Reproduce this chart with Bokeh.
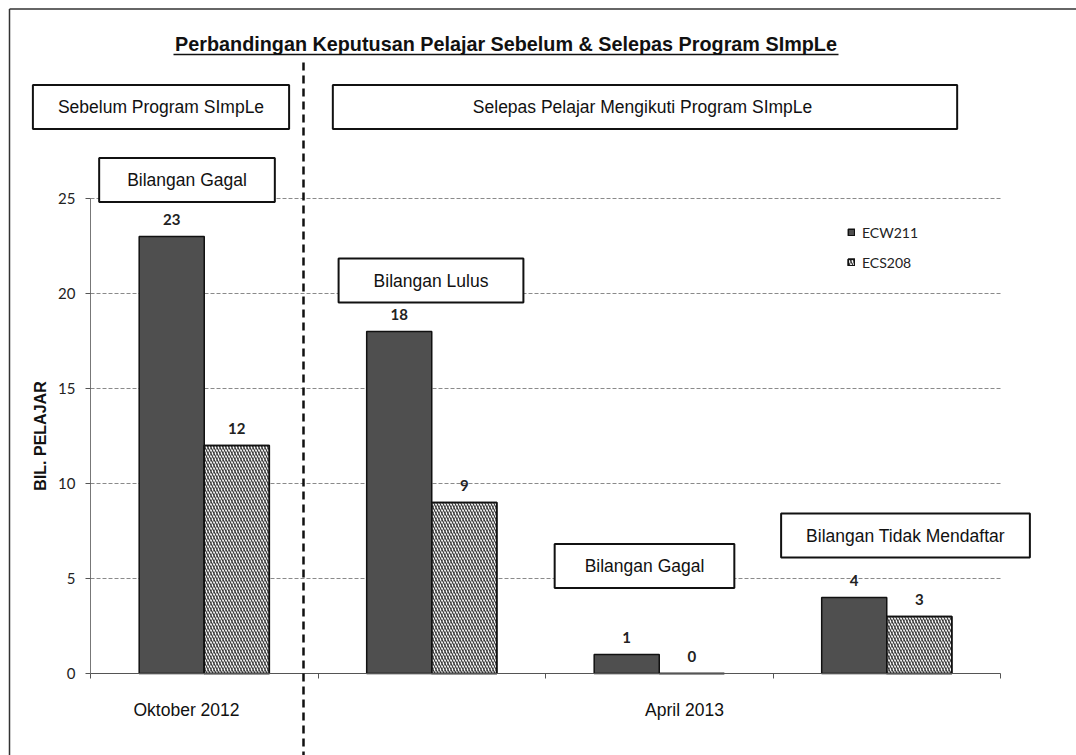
from bokeh.plotting import figure
from bokeh.models import (Range1d, FixedTicker, Label, LabelSet, ColumnDataSource,
                          Legend, LegendItem, Arrow)
from bokeh.embed import file_html
from bokeh.resources import INLINE
from bokeh.core.properties import value

# ---------------- data ----------------
months = ["Oktober 2012", "April 2013"]
groups = ["Bilangan Gagal (Okt 2012)", "Bilangan Lulus", "Bilangan Gagal", "Bilangan Tidak Mendaftar"]
ecw211 = [23, 18, 1, 4]
ecs208 = [12, 9, 0, 3]
y_ticks = [0, 5, 10, 15, 20, 25]
series_names = ["ECW211", "ECS208"]

# ---------------- layout (page pixels) ----------------
W, H = 1076, 755
AX_L, AX_R = 90.0, 1000.0      # x of value axis / end of category axis
AX_B, AX_T = 673.0, 198.0      # y of 0 and of 25
YMAX = 25
PXX = (AX_R - AX_L) / len(groups)
PXY = (AX_B - AX_T) / YMAX

def dx(px):
    return (px - AX_L) / PXX

def dy(py):
    return (AX_B - py) / PXY

p = figure(width=W, height=H, output_backend="svg", toolbar_location=None,
           x_range=Range1d(dx(0), dx(W)), y_range=Range1d(dy(H), dy(0)),
           min_border=0, min_border_left=0, min_border_right=0,
           min_border_top=0, min_border_bottom=0)
p.outline_line_color = None
p.background_fill_color = "white"
p.border_fill_color = "white"
p.xgrid.visible = False
p.ygrid.visible = False

# grid lines (value ticks across the category span)
gl = [t for t in y_ticks if t > 0]
p.segment(x0=[0] * len(gl), x1=[len(groups)] * len(gl), y0=gl, y1=gl,
          line_color="#8a8a8a", line_dash="4 2", line_width=1)

bw = 0.286
centers = [i + 0.5 for i in range(len(groups))]
x1 = [c - bw / 2 for c in centers]
x2 = [c + bw / 2 for c in centers]

src1 = ColumnDataSource(dict(x=x1, top=ecw211, t=[str(v) for v in ecw211]))
src2 = ColumnDataSource(dict(x=x2, top=ecs208, t=[str(v) for v in ecs208]))

r1 = p.vbar(x="x", top="top", width=bw, source=src1, fill_color="#4f4f4f",
            line_color="#111111", line_width=1.5)
r2a = p.vbar(x="x", top="top", width=bw, source=src2, fill_color="white",
             hatch_pattern="left_diagonal_line", hatch_color="#333333", hatch_scale=6,
             hatch_weight=1.2, line_color="#111111", line_width=1.5)
r2b = p.vbar(x="x", top="top", width=bw, source=src2, fill_alpha=0,
             hatch_pattern="right_diagonal_line", hatch_color="#444444", hatch_scale=6,
             hatch_weight=0.7, line_color="#111111", line_width=1.5)

for s in (src1, src2):
    p.add_layout(LabelSet(x="x", y="top", text="t", source=s, y_offset=17,
                          text_align="center", text_baseline="middle",
                          text_font=value("Lato"), text_font_size="15px",
                          text_font_style="bold", text_color="#222222"))

# ---------------- axes (drawn at the data origin) ----------------
xt = list(range(len(groups) + 1))
p.xaxis.fixed_location = 0
p.xaxis.bounds = (0, len(groups))
p.xaxis.ticker = FixedTicker(ticks=xt)
p.xaxis.major_label_overrides = {t: "" for t in xt}
p.xaxis.major_tick_in = 0
p.xaxis.major_tick_out = 5
p.xaxis.minor_tick_line_color = None
p.xaxis.axis_line_color = "#555555"
p.xaxis.major_tick_line_color = "#555555"

p.yaxis.fixed_location = 0
p.yaxis.bounds = (0, YMAX)
p.yaxis.ticker = FixedTicker(ticks=y_ticks)
p.yaxis.major_tick_in = 0
p.yaxis.major_tick_out = 5
p.yaxis.minor_tick_line_color = None
p.yaxis.axis_line_color = "#777777"
p.yaxis.major_tick_line_color = "#555555"
p.yaxis.major_label_text_font = "Lato"
p.yaxis.major_label_text_font_size = "15px"
p.yaxis.major_label_text_color = "#222222"
p.yaxis.major_label_standoff = 10
p.yaxis.axis_label = "BIL. PELAJAR"
p.yaxis.axis_label_text_font = "Liberation Sans"
p.yaxis.axis_label_text_font_style = "bold"
p.yaxis.axis_label_text_font_size = "16px"
p.yaxis.axis_label_text_color = "#111111"
p.yaxis.axis_label_standoff = 6

# ---------------- legend ----------------
legend = Legend(items=[LegendItem(label=series_names[0], renderers=[r1]),
                       LegendItem(label=series_names[1], renderers=[r2a, r2b])],
                location=(847, H - 272), orientation="vertical",
                glyph_width=8, glyph_height=8, label_height=20, spacing=10,
                padding=0, margin=0, border_line_color=None, background_fill_alpha=0,
                label_text_font="Lato", label_text_font_size="14px",
                label_text_color="#222222", label_standoff=7)
p.add_layout(legend)

# ---------------- decorations ----------------
# outer frame
p.add_layout(Arrow(x_start=dx(9), y_start=dy(8.5), x_end=dx(9), y_end=dy(H + 20), end=None,
                   line_color="#333333", line_width=1.5))
p.add_layout(Arrow(x_start=dx(9), y_start=dy(8.5), x_end=dx(W + 20), y_end=dy(8.5), end=None,
                   line_color="#333333", line_width=1.5))

# title
title = "Perbandingan Keputusan Pelajar Sebelum & Selepas Program SImpLe"
p.add_layout(Label(x=dx(505.5), y=dy(43), text=title, text_align="center",
                   text_baseline="middle", text_font="Liberation Sans",
                   text_font_style="bold", text_font_size="19.8px", text_color="#111111"))
p.add_layout(Arrow(x_start=dx(173), y_start=dy(54), x_end=dx(838), y_end=dy(54), end=None,
                   line_color="#111111", line_width=1.5))

# divider
p.add_layout(Arrow(x_start=dx(303), y_start=dy(62), x_end=dx(303), y_end=dy(H + 20), end=None,
                   line_color="#111111", line_width=2.5, line_dash="8 5"))

# boxed captions: (text, center_x, center_y, pad_x, pad_y)
boxes = [
    ("Sebelum Program SImpLe", 160.5, 106.5, 25, 12),
    ("Selepas Pelajar Mengikuti  Program SImpLe", 644.5, 106.5, 140, 12),
    (groups[2], 186.5, 179.5, 28, 12),
    (groups[1], 430.5, 280, 35, 12),
    (groups[2], 644, 565.5, 30, 12),
    (groups[3], 905, 535, 25, 12),
]
for txt, cx, cy, px, py in boxes:
    p.add_layout(Label(x=dx(cx), y=dy(cy), text=txt, text_align="center",
                       text_baseline="middle", text_font="Liberation Sans",
                       text_font_size="17.5px", text_color="#111111",
                       background_fill_color="white", border_line_color="#111111",
                       border_line_width=2,
                       padding=dict(left=px, right=px, top=py, bottom=py)))

# category labels
for txt, cx in zip(months, [186, 684]):
    p.add_layout(Label(x=dx(cx), y=dy(709), text=txt, text_align="center",
                       text_baseline="middle", text_font="Liberation Sans",
                       text_font_size="17.5px", text_color="#111111"))

open("out.html", "w").write(file_html(p, INLINE))
